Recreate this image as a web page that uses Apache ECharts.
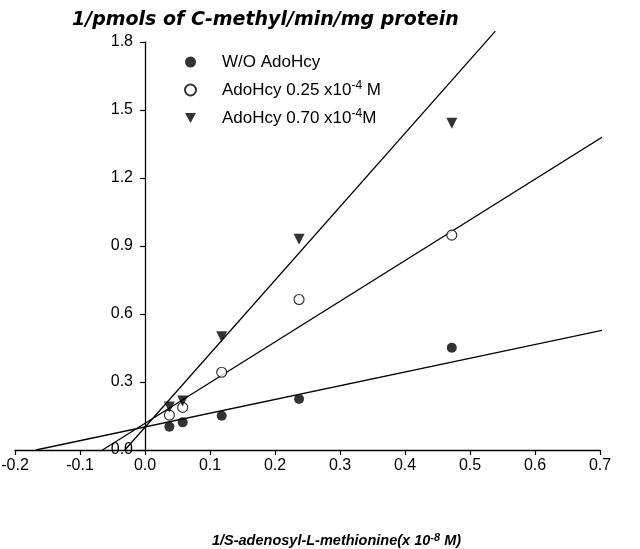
<!DOCTYPE html>
<html>
<head>
<meta charset="utf-8">
<script src="https://cdn.jsdelivr.net/npm/echarts@6/dist/echarts.min.js"></script>
<style>
  html, body { margin: 0; padding: 0; background: #fff; }
  #main { width: 640px; height: 549px; }
</style>
</head>
<body>
<div id="main"></div>
<script>
// 1/[SAM] values (x 10^-8 M)
const xValues = [0.0375, 0.058, 0.118, 0.237, 0.472];
// 1/velocity for each inhibitor level
const woAdoHcy = [0.103, 0.122, 0.151, 0.225, 0.451];
const adoHcy025 = [0.154, 0.188, 0.343, 0.664, 0.948];
const adoHcy070 = [0.19, 0.216, 0.50, 0.93, 1.441];
// fitted lines, end points [x, y]
const fitWO = [[-0.168, 0], [0.737, 0.548]];
const fit025 = [[-0.0655, 0], [0.763, 1.487]];
const fit070 = [[-0.031, 0], [0.539, 1.848]];
const xTicks = { min: -0.2, max: 0.7, step: 0.1 };
const yTicks = { min: 0, max: 1.8, step: 0.3 };

const seriesNames = ['W/O AdoHcy', 'AdoHcy 0.25 x10-4 M', 'AdoHcy 0.70 x10-4M'];

function pairs(xs, ys) {
  return xs.map((x, i) => [x, ys[i]]);
}

const gridLeft = 15, gridRight = 40, chartW = 640;
// shift y axis so it sits on x = 0
const yAxisShift = (0 - xTicks.min) / (xTicks.max - xTicks.min) * (chartW - gridLeft - gridRight);

const lineStyle = { color: '#000', width: 1.3 };
function fitSeries(pts) {
  return {
    type: 'line',
    data: pts,
    showSymbol: false,
    symbol: 'none',
    clip: false,
    silent: true,
    lineStyle: lineStyle,
    z: 1
  };
}

const chart = echarts.init(document.getElementById('main'));
chart.setOption({
  animation: false,
  backgroundColor: '#fff',
  title: {
    text: '1/pmols of C-methyl/min/mg protein',
    left: 67,
    top: 6,
    textStyle: {
      fontFamily: 'DejaVu Sans',
      fontStyle: 'italic',
      fontWeight: 'bold',
      fontSize: 19,
      color: '#000'
    }
  },
  legend: {
    data: [
      { name: seriesNames[0] },
      { name: seriesNames[1] },
      { name: seriesNames[2], icon: 'path://M0,0 L12,0 L6,11 Z' }
    ],
    orient: 'vertical',
    left: 184,
    top: 52,
    padding: 0,
    itemWidth: 11,
    itemHeight: 11,
    itemGap: 8,
    selectedMode: false,
    textStyle: {
      fontFamily: 'Liberation Sans, Arial',
      fontSize: 17,
      lineHeight: 20,
      color: '#000',
      padding: [0, 0, 0, 21],
      rich: {
        sup: { fontSize: 12, verticalAlign: 'top', lineHeight: 20 }
      }
    },
    formatter: function (name) {
      if (name === seriesNames[1]) return 'AdoHcy 0.25 x10{sup|-4} M';
      if (name === seriesNames[2]) return 'AdoHcy 0.70 x10{sup|-4}M';
      return name;
    }
  },
  grid: {
    left: gridLeft,
    right: gridRight,
    top: 42,
    bottom: 99,
    containLabel: false,
    outerBoundsMode: 'none'
  },
  xAxis: {
    type: 'value',
    min: xTicks.min,
    max: xTicks.max,
    interval: xTicks.step,
    name: '1/S-adenosyl-L-methionine(x 10{sup|-8} M)',
    nameLocation: 'middle',
    nameGap: 82,
    nameTextStyle: {
      fontFamily: 'Liberation Sans, Arial',
      fontStyle: 'italic',
      fontWeight: 'bold',
      fontSize: 14.5,
      color: '#000',
      lineHeight: 18,
      padding: [0, 0, 0, 58],
      rich: {
        sup: { fontSize: 11, fontStyle: 'italic', fontWeight: 'bold', verticalAlign: 'top', lineHeight: 18 }
      }
    },
    axisLine: { onZero: false, lineStyle: { color: '#000', width: 1.3 } },
    axisTick: { show: true, length: 5, lineStyle: { color: '#000', width: 1.2 } },
    axisLabel: {
      margin: 8,
      fontFamily: 'Liberation Sans, Arial',
      fontSize: 16,
      color: '#000',
      formatter: v => v.toFixed(1)
    },
    splitLine: { show: false }
  },
  yAxis: {
    type: 'value',
    min: yTicks.min,
    max: yTicks.max,
    interval: yTicks.step,
    offset: -yAxisShift,
    axisLine: { show: true, onZero: false, lineStyle: { color: '#000', width: 1.3 } },
    axisTick: { show: true, length: 5, lineStyle: { color: '#000', width: 1.2 } },
    axisLabel: {
      margin: 12,
      fontFamily: 'Liberation Sans, Arial',
      fontSize: 16,
      color: '#000',
      formatter: v => v.toFixed(1)
    },
    splitLine: { show: false }
  },
  series: [
    {
      name: seriesNames[0],
      type: 'scatter',
      data: pairs(xValues, woAdoHcy),
      symbol: 'circle',
      symbolSize: 10,
      itemStyle: { color: '#000' },
      z: 3
    },
    {
      name: seriesNames[1],
      type: 'scatter',
      data: pairs(xValues, adoHcy025),
      symbol: 'circle',
      symbolSize: 10,
      itemStyle: { color: '#fff', borderColor: '#000', borderWidth: 1.2 },
      z: 3
    },
    {
      name: seriesNames[2],
      type: 'scatter',
      data: pairs(xValues, adoHcy070),
      symbol: 'triangle',
      symbolRotate: 180,
      symbolSize: 11,
      itemStyle: { color: '#000' },
      z: 3
    },
    fitSeries(fitWO),
    fitSeries(fit025),
    fitSeries(fit070)
  ]
});
</script>
</body>
</html>
